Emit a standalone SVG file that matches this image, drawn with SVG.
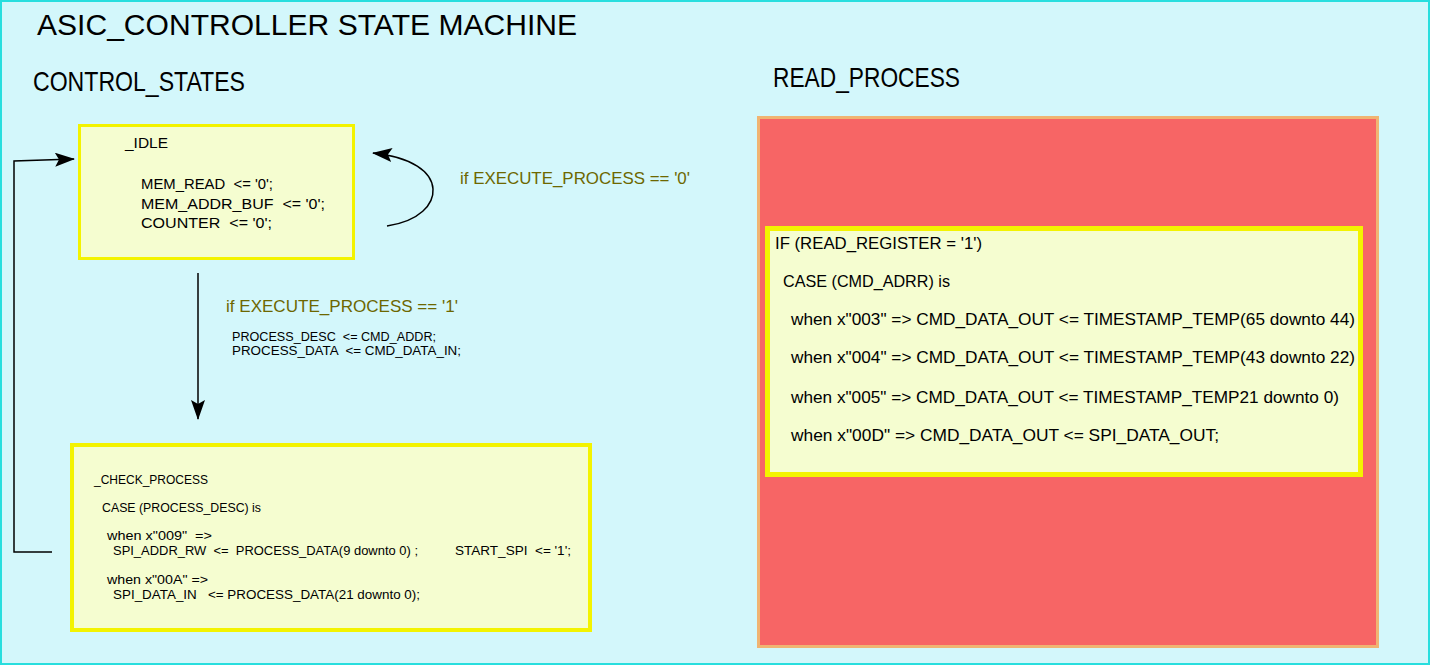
<svg xmlns="http://www.w3.org/2000/svg" width="1430" height="665" viewBox="0 0 1430 665" xml:space="preserve">
<style>
text{white-space:pre;}
.t{font-family:"Liberation Sans",Arial,sans-serif;fill:#000;}
.h{font-size:28px;}
.s{font-size:15.5px;}
.c{font-size:12.5px;}
.r{font-size:17px;}
.o{font-family:"Liberation Sans",Arial,sans-serif;fill:#6d6700;font-size:17px;}
.box{fill:#f5fdd0;stroke:#f3f300;}
.ln{fill:none;stroke:#000;stroke-width:1.5;}
</style>
<defs>
<marker id="ah" markerUnits="userSpaceOnUse" markerWidth="20" markerHeight="14" refX="19" refY="7" orient="auto">
<path d="M0,0 L20,7 L0,14 L4,7 Z" fill="#000"/>
</marker>
</defs>
<rect x="1" y="1" width="1428" height="663" fill="#d3f7fb" stroke="#28dede" stroke-width="2"/>
<g id="titles">
<text class="t" x="37" y="35" font-size="29" textLength="540" lengthAdjust="spacingAndGlyphs">ASIC_CONTROLLER STATE MACHINE</text>
<text class="t h" x="33" y="91" textLength="212" lengthAdjust="spacingAndGlyphs">CONTROL_STATES</text>
<text class="t h" x="773" y="87" textLength="187" lengthAdjust="spacingAndGlyphs">READ_PROCESS</text>
</g>
<g id="connectors">
<path class="ln" d="M52,552 H14 V161 L74,159" marker-end="url(#ah)"/>
<path class="ln" d="M387,226 C420,221 434,204 433,189 C432,172 412,157 373,153" marker-end="url(#ah)"/>
<path class="ln" d="M198,273 V419" marker-end="url(#ah)"/>
<text class="o" x="460" y="184" textLength="230" lengthAdjust="spacingAndGlyphs">if EXECUTE_PROCESS == '0'</text>
<text class="o" x="226" y="312" font-size="18" textLength="232" lengthAdjust="spacingAndGlyphs">if EXECUTE_PROCESS == '1'</text>
<text class="t c" x="232" y="341" textLength="204" lengthAdjust="spacingAndGlyphs">PROCESS_DESC  &lt;= CMD_ADDR;</text>
<text class="t c" x="232" y="355" textLength="229" lengthAdjust="spacingAndGlyphs">PROCESS_DATA  &lt;= CMD_DATA_IN;</text>
</g>
<g id="idle">
<rect class="box" x="79.5" y="125.5" width="274" height="133" stroke-width="3"/>
<text class="t s" x="125" y="148" textLength="43" lengthAdjust="spacingAndGlyphs">_IDLE</text>
<text class="t s" x="141" y="189" textLength="132" lengthAdjust="spacingAndGlyphs">MEM_READ  &lt;= '0';</text>
<text class="t s" x="141" y="209" textLength="184" lengthAdjust="spacingAndGlyphs">MEM_ADDR_BUF  &lt;= '0';</text>
<text class="t s" x="141" y="228" textLength="131" lengthAdjust="spacingAndGlyphs">COUNTER  &lt;= '0';</text>
</g>
<g id="check_process">
<rect class="box" x="72" y="445" width="518" height="185" stroke-width="4"/>
<text class="t c" x="94" y="484" textLength="114" lengthAdjust="spacingAndGlyphs">_CHECK_PROCESS</text>
<text class="t c" x="102" y="512" textLength="159" lengthAdjust="spacingAndGlyphs">CASE (PROCESS_DESC) is</text>
<text class="t c" x="107" y="540" textLength="105" lengthAdjust="spacingAndGlyphs">when x"009"  =&gt;</text>
<text class="t c" x="113" y="555" textLength="305" lengthAdjust="spacingAndGlyphs">SPI_ADDR_RW  &lt;=  PROCESS_DATA(9 downto 0) ;</text>
<text class="t c" x="455" y="555" textLength="116" lengthAdjust="spacingAndGlyphs">START_SPI  &lt;= '1';</text>
<text class="t c" x="107" y="584" textLength="101" lengthAdjust="spacingAndGlyphs">when x"00A" =&gt;</text>
<text class="t c" x="113" y="599" textLength="307" lengthAdjust="spacingAndGlyphs">SPI_DATA_IN   &lt;= PROCESS_DATA(21 downto 0);</text>
</g>
<g id="read_process">
<rect x="758.5" y="117.5" width="619" height="529" fill="#f76565" stroke="#f0b472" stroke-width="3"/>
<rect class="box" x="767.5" y="228.5" width="593" height="246" stroke-width="5"/>
<text class="t r" x="775" y="249" textLength="207" lengthAdjust="spacingAndGlyphs">IF (READ_REGISTER = '1')</text>
<text class="t r" x="783" y="287" textLength="167" lengthAdjust="spacingAndGlyphs">CASE (CMD_ADRR) is</text>
<text class="t r" x="791" y="325" textLength="564" lengthAdjust="spacingAndGlyphs">when x"003" =&gt; CMD_DATA_OUT &lt;= TIMESTAMP_TEMP(65 downto 44)</text>
<text class="t r" x="791" y="363" textLength="564" lengthAdjust="spacingAndGlyphs">when x"004" =&gt; CMD_DATA_OUT &lt;= TIMESTAMP_TEMP(43 downto 22)</text>
<text class="t r" x="791" y="403" textLength="548" lengthAdjust="spacingAndGlyphs">when x"005" =&gt; CMD_DATA_OUT &lt;= TIMESTAMP_TEMP21 downto 0)</text>
<text class="t r" x="791" y="441" textLength="428" lengthAdjust="spacingAndGlyphs">when x"00D" =&gt; CMD_DATA_OUT &lt;= SPI_DATA_OUT;</text>
</g>
</svg>
